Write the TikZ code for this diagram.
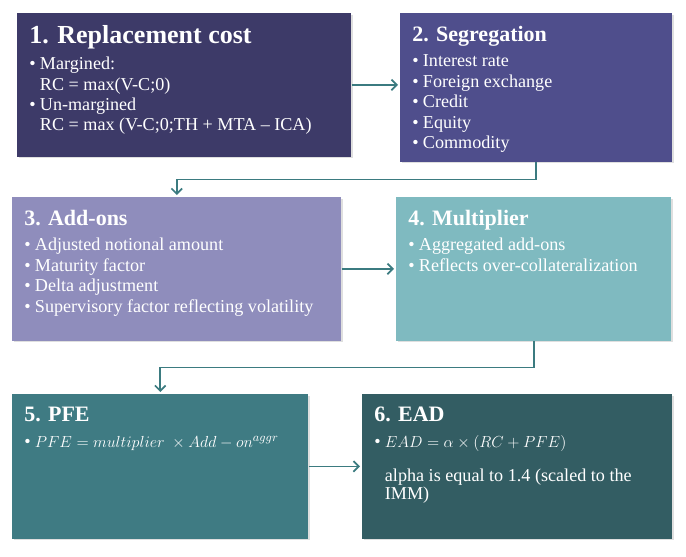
\documentclass[tikz,border=0pt]{standalone}
\usepackage{fontspec}
\setmainfont{Liberation Serif}
\usetikzlibrary{arrows.meta,calc,shadows}

\definecolor{rccol}{HTML}{3D3A68}
\definecolor{segcol}{HTML}{4F4E8C}
\definecolor{addcol}{HTML}{8F8DBC}
\definecolor{multcol}{HTML}{7FBAC0}
\definecolor{pfecol}{HTML}{3F7B83}
\definecolor{eadcol}{HTML}{335D63}
\definecolor{linkcol}{HTML}{3B7B80}

\newcommand{\bodyfont}{\fontsize{13.6}{15.3}\selectfont}
\newcommand{\mathfont}{\fontsize{12.4}{15.3}\selectfont}
% box of w x h pixels, text set from its top
\newcommand{\stagebox}[3]{\parbox[t][\dimexpr 0.75pt*#2-18pt\relax][t]{\dimexpr 0.75pt*#1-18pt\relax}{#3}}
\newcommand{\stagetitle}[2][16.5]{{\fontsize{#1}{18}\selectfont\bfseries #2\par}\vspace{4pt}}
\newcommand{\itm}[1]{\par\hangindent=8pt\hangafter=1\noindent\makebox[8pt][l]{\textbullet}#1}

\begin{document}
\begin{tikzpicture}[x=0.75pt,y=-0.75pt,
  stage/.style={anchor=north west, inner xsep=9pt, inner ysep=9.5pt,
    text=white, font=\bodyfont,
    drop shadow={shadow xshift=1.2pt,shadow yshift=-1.2pt,opacity=.25}},
  link/.style={draw=linkcol, line width=1.3pt,
    -{Straight Barb[length=4pt,width=8pt]}, shorten >=1.5pt}]
\path[fill=white, use as bounding box] (0,0) rectangle (686,557);

\node[stage, fill=rccol] (rc) at (17,13) {\stagebox{334}{142}{%
  \stagetitle[19.5]{1. Replacement cost}
  \itm{Margined:\\RC = max(V-C;0)}
  \itm{Un-margined\\RC = max (V-C;0;TH + MTA -- ICA)}}};
\node[stage, fill=segcol] (seg) at (400,13) {\stagebox{272}{147}{%
  \stagetitle{2. Segregation}
  \itm{Interest rate}
  \itm{Foreign exchange}
  \itm{Credit}
  \itm{Equity}
  \itm{Commodity}}};
\node[stage, fill=addcol] (add) at (12,197) {\stagebox{329}{142}{%
  \stagetitle{3. Add-ons}
  \itm{Adjusted notional amount}
  \itm{Maturity factor}
  \itm{Delta adjustment}
  \itm{Supervisory factor reflecting volatility}}};
\node[stage, fill=multcol] (mult) at (396,197) {\stagebox{275}{142}{%
  \stagetitle{4. Multiplier}
  \itm{Aggregated add-ons}
  \itm{Reflects over-collateralization}}};
\node[stage, fill=pfecol] (pfe) at (12,394) {\stagebox{296}{143}{%
  \stagetitle{5. PFE}
  \itm{\mbox{\mathfont$PFE = multiplier\ \times Add - on^{aggr}$}}}};
\node[stage, fill=eadcol] (ead) at (362,394) {\stagebox{310}{143}{%
  \stagetitle{6. EAD}
  \itm{\mbox{\mathfont$EAD = \alpha\times(RC+PFE)$}}\par\vspace{12pt}
  {\leftskip=8pt\baselineskip=13.5pt\noindent
  alpha is equal to 1.4 (scaled to the\\IMM)\par}}};

% connectors
\draw[link] (rc.east) -- (rc.east -| seg.west);
\draw[link] (seg.south) |- ($(seg.south)!.5!(add.north)$) -| (add.north);
\draw[link] (add.east) -- (add.east -| mult.west);
\draw[link] (mult.south) |- ($(mult.south)!.5!(pfe.north)$) -| (pfe.north);
\draw[link] (pfe.east) -- (pfe.east -| ead.west);
\end{tikzpicture}
\end{document}
